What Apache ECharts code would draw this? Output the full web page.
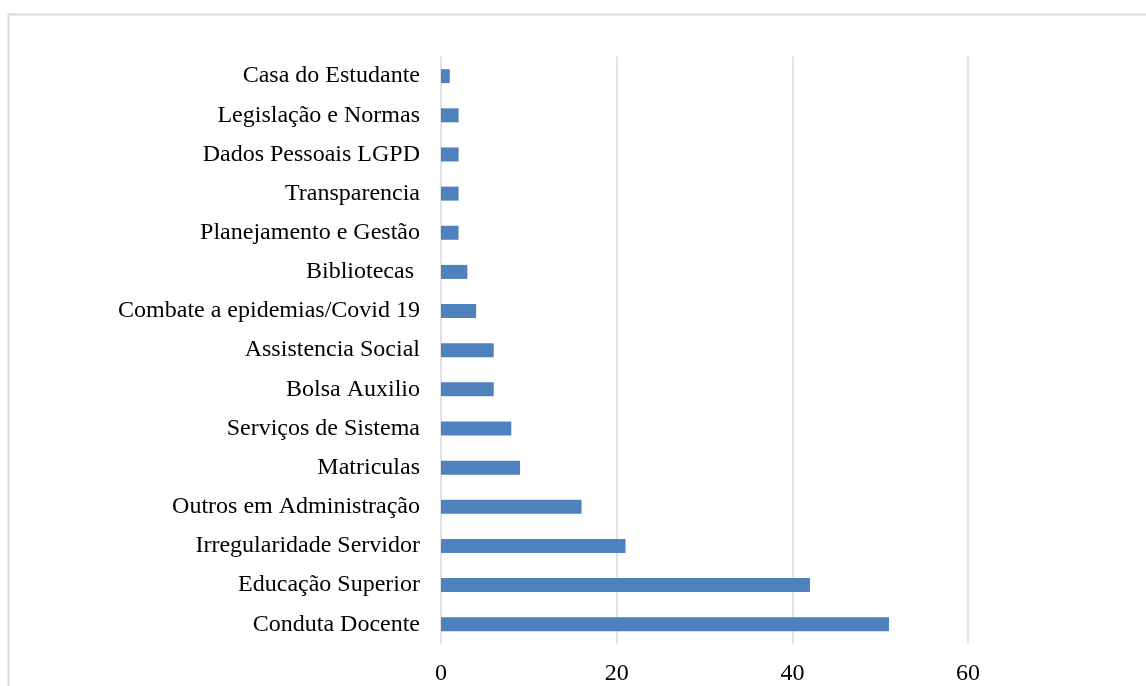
<!DOCTYPE html>
<html>
<head>
<meta charset="utf-8">
<script src="https://cdn.jsdelivr.net/npm/echarts@6/dist/echarts.min.js"></script>
<style>
  html, body { margin: 0; padding: 0; background: #fff; }
  #chart { width: 1146px; height: 686px; }
</style>
</head>
<body>
<div id="chart"></div>
<script>
// Categories listed top to bottom
const categories = [
  'Casa do Estudante',
  'Legislação e Normas',
  'Dados Pessoais LGPD',
  'Transparencia',
  'Planejamento e Gestão',
  'Bibliotecas ',
  'Combate a epidemias/Covid 19',
  'Assistencia Social',
  'Bolsa Auxilio',
  'Serviços de Sistema',
  'Matriculas',
  'Outros em Administração',
  'Irregularidade Servidor',
  'Educação Superior',
  'Conduta Docente'
];
const counts = [1, 2, 2, 2, 2, 3, 4, 6, 6, 8, 9, 16, 21, 42, 51];
const axisMin = 0;
const axisMax = 80;
const axisStep = 20;

const chart = echarts.init(document.getElementById('chart'), null, { renderer: 'canvas' });
const font = '"Liberation Serif", "Times New Roman", serif';

chart.setOption({
  animation: false,
  backgroundColor: '#ffffff',
  graphic: [{
    type: 'rect',
    shape: { x: 8.5, y: 14.5, width: 1160, height: 700 },
    style: { fill: 'none', stroke: '#d9d9d9', lineWidth: 2 },
    silent: true
  }],
  grid: { left: 441, top: 56.6, width: 702.8, height: 587.2, containLabel: false },
  xAxis: {
    type: 'value',
    min: axisMin,
    max: axisMax,
    interval: axisStep,
    axisLine: { show: false },
    axisTick: { show: false },
    axisLabel: {
      showMaxLabel: false,
      margin: 18,
      color: '#000',
      fontFamily: font,
      fontSize: 24
    },
    splitLine: {
      showMaxLine: false,
      lineStyle: { color: '#d9d9d9', width: 1.5 }
    }
  },
  yAxis: {
    type: 'category',
    inverse: true,
    data: categories,
    axisLine: { show: false },
    axisTick: { show: false },
    axisLabel: {
      margin: 21,
      color: '#000',
      fontFamily: font,
      fontSize: 24
    },
    splitLine: { show: false }
  },
  series: [{
    type: 'bar',
    data: counts,
    barWidth: 14,
    itemStyle: { color: '#4f81bd' }
  }]
});
</script>
</body>
</html>
